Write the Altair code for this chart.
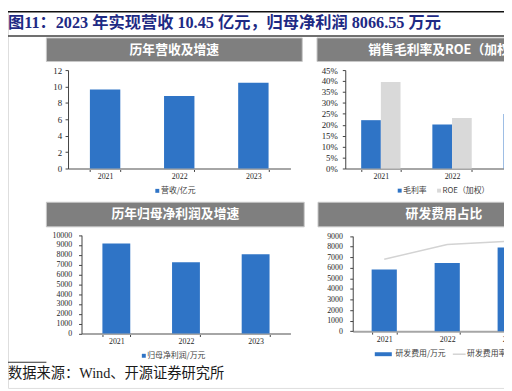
import altair as alt
import pandas as pd

# ---------------- data ----------------
years = ["2021", "2022", "2023"]
revenue = [9.63, 8.84, 10.45]            # 营收/亿元
gross_margin = [0.221, 0.201, 0.249]     # 毛利率
roe = [0.396, 0.231, 0.210]              # ROE（加权）
net_profit = [9140, 7240, 8067]          # 归母净利润/万元
rd_expense = [5830, 6456, 7920]          # 研发费用/万元
rd_ratio = [0.0605, 0.0730, 0.0758]      # 研发费用率

y1_ticks = [0, 2, 4, 6, 8, 10, 12]
y2_ticks = [0, 0.05, 0.10, 0.15, 0.20, 0.25, 0.30, 0.35, 0.40, 0.45]
y3_ticks = [0, 1000, 2000, 3000, 4000, 5000, 6000, 7000, 8000, 9000, 10000]
y4_ticks = [0, 1000, 2000, 3000, 4000, 5000, 6000, 7000, 8000, 9000]

main_title = "图11：2023 年实现营收 10.45 亿元，归母净利润 8066.55 万元"
panel_titles = ["历年营收及增速", "销售毛利率及ROE（加权）", "历年归母净利润及增速", "研发费用占比"]
name_rev = "营收/亿元"
name_gm = "毛利率"
name_roe = "ROE（加权）"
name_np = "归母净利润/万元"
name_rd = "研发费用/万元"
name_rdr = "研发费用率"
source = "数据来源：Wind、开源证券研究所"

# ---------------- styles / layout ----------------
BLUE = "#2F74C6"
LGRAY = "#D9D9D9"
LINE = "#D3D3D3"
HEAD = "#7F7F7F"
NAVY = "#1E2A84"
SERIF = "Liberation Serif, Noto Sans CJK SC"
CJK = "Noto Sans CJK SC"
ONE = pd.DataFrame({"k": [0]})

W, H = 504, 383          # whole canvas (page is 512x391 with an 8px margin)


def X(p):                # page x -> canvas x
    return p - 8


def Y(p):                # page y -> canvas y
    return p - 8


def rect(x, x2, y, y2, fill, **kw):
    return alt.Chart(ONE).mark_rect(fill=fill, **kw).encode(
        x=alt.value(X(x)), x2=alt.value(X(x2)), y=alt.value(Y(y)), y2=alt.value(Y(y2)))


def text(s, x, y, **kw):
    return alt.Chart(pd.DataFrame({"t": [s]})).mark_text(**kw).encode(
        x=alt.value(X(x)), y=alt.value(Y(y)), text="t:N")


def header(x, x2, y, y2, s, cx):
    return [rect(x, x2, y, y2, HEAD, stroke="#C8C8C8", strokeWidth=1),
            text(s, cx, (y + y2) / 2, font=CJK, fontSize=13, fontWeight="bold",
                 color="white")]


def legend_text(s, x, y):
    return text(s, x, y, align="left", font=CJK, fontSize=8, color="#404040")


def xaxis(axis_y):
    return alt.Axis(orient="bottom", offset=Y(axis_y) - H, title=None, labelAngle=0,
                    labelFont=SERIF, labelFontSize=8, labelColor="#262626",
                    domainColor="#A6A6A6", domainWidth=2, tickBand="extent",
                    tickSize=3, tickColor="#404040", labelPadding=1, grid=False)


def yaxis(axis_x, values, size, pad, fmt):
    return alt.Axis(orient="left", offset=-X(axis_x), values=values, title=None,
                    format=fmt, labelFont=SERIF, labelFontSize=size,
                    labelColor="#262626", domainColor="#404040", domainWidth=1,
                    tickSize=3, tickColor="#404040", labelPadding=pad, grid=False)


# ---------------- decorations ----------------
decor = [
    rect(8, 512, 8, 9.5, "#111111"),
    text(main_title, 8, 20, align="left", font=SERIF, fontSize=16.5,
         fontWeight="bold", color=NAVY),
    rect(8, 512, 32.7, 34, "#404040"),
    *header(47, 307, 35.3, 59.3, panel_titles[0], 177),
    *header(322, 583, 35.3, 59.3, panel_titles[1], 452.5),
    *header(47, 309, 202.3, 227.3, panel_titles[2], 178),
    *header(323, 579, 202.3, 227.3, panel_titles[3], 451),
    rect(8, 47, 364.3, 365.3, "#333333"),
    text(source, 8, 377, align="left", font=SERIF, fontSize=14.5, color="#1A1A1A"),
]

# ---------------- panel 1: 营收 ----------------
df1 = pd.DataFrame({"year": years, "v": revenue})
bars1 = alt.Chart(df1).mark_bar(color=BLUE).encode(
    x=alt.X("year:N", sort=years, axis=xaxis(168),
            scale=alt.Scale(range=[X(69), X(295)], paddingInner=0.59, paddingOuter=0.295)),
    y=alt.Y("v:Q", axis=yaxis(69, y1_ticks, 9, 3.5, "d"),
            scale=alt.Scale(domain=[0, 12], range=[Y(168), Y(68)])))

# ---------------- panel 2: 毛利率 / ROE ----------------
df2 = pd.DataFrame({
    "year": years * 2,
    "s": [name_gm] * 3 + [name_roe] * 3,
    "v": gross_margin + roe,
})
bars2 = alt.Chart(df2).mark_bar().encode(
    x=alt.X("year:N", sort=years, axis=xaxis(168),
            scale=alt.Scale(range=[X(350.7), X(567.7)], paddingInner=0.447,
                            paddingOuter=0.2235)),
    xOffset=alt.XOffset("s:N", scale=alt.Scale(domain=[name_gm, name_roe],
                                              paddingInner=0, paddingOuter=0)),
    y=alt.Y("v:Q", axis=yaxis(350.7, y2_ticks, 9, 5, ".0%"),
            scale=alt.Scale(domain=[0, 0.45], range=[Y(168), Y(68)])),
    color=alt.Color("s:N", scale=alt.Scale(domain=[name_gm, name_roe],
                                           range=[BLUE, LGRAY]), legend=None))

# ---------------- panel 3: 归母净利润 ----------------
df3 = pd.DataFrame({"year": years, "v": net_profit})
bars3 = alt.Chart(df3).mark_bar(color=BLUE).encode(
    x=alt.X("year:N", sort=years, axis=xaxis(335.7),
            scale=alt.Scale(range=[X(82.7), X(295)], paddingInner=0.6, paddingOuter=0.3)),
    y=alt.Y("v:Q", axis=yaxis(82.7, y3_ticks, 8, 7, "d"),
            scale=alt.Scale(domain=[0, 10000], range=[Y(335.7), Y(235.7)])))

# ---------------- panel 4: 研发费用 ----------------
df4 = pd.DataFrame({"year": years, "v": rd_expense, "r": rd_ratio})
x4 = alt.Scale(range=[X(358.3), X(550.3)], paddingInner=0.6, paddingOuter=0.3)
bars4 = alt.Chart(df4).mark_bar(color=BLUE).encode(
    x=alt.X("year:N", sort=years, axis=xaxis(333.3), scale=x4),
    y=alt.Y("v:Q", axis=yaxis(358.3, y4_ticks, 8, 7.5, "d"),
            scale=alt.Scale(domain=[0, 9000], range=[Y(333.3), Y(236.7)])))
line4 = alt.Chart(df4).mark_line(color=LINE, strokeWidth=1.5).encode(
    x=alt.X("year:N", sort=years),
    y=alt.Y("r:Q", axis=None,
            scale=alt.Scale(domain=[0, 0.08], range=[Y(333.3), Y(236.7)])))
panel4 = alt.layer(bars4, line4).resolve_scale(y="independent")

# ---------------- legends ----------------
legends = [
    rect(157.7, 161.7, 188.7, 192.7, BLUE),
    legend_text(name_rev, 163.5, 190.7),
    rect(404, 408, 188.5, 192.5, BLUE),
    legend_text(name_gm, 409.5, 190.5),
    rect(444, 448, 188.5, 192.5, LGRAY),
    legend_text(name_roe, 449.5, 190.5),
    rect(144, 148, 356.3, 360.3, BLUE),
    legend_text(name_np, 149.5, 358.3),
    rect(380.7, 398, 354.7, 358.7, BLUE),
    legend_text(name_rd, 401.7, 356.7),
    alt.Chart(ONE).mark_rule(color=LINE, strokeWidth=1.5).encode(
        x=alt.value(X(460)), x2=alt.value(X(473)), y=alt.value(Y(356.7))),
    legend_text(name_rdr, 474.5, 356.7),
]

chart = alt.layer(
    *decor, bars1, bars2, bars3, panel4, *legends
).resolve_scale(
    x="independent", y="independent"
).properties(
    width=W, height=H, padding=0, autosize=alt.AutoSizeParams(type="none")
).configure_view(stroke=None).configure(background="white")

chart.save("out.html", embed_options={"renderer": "svg", "actions": False})
